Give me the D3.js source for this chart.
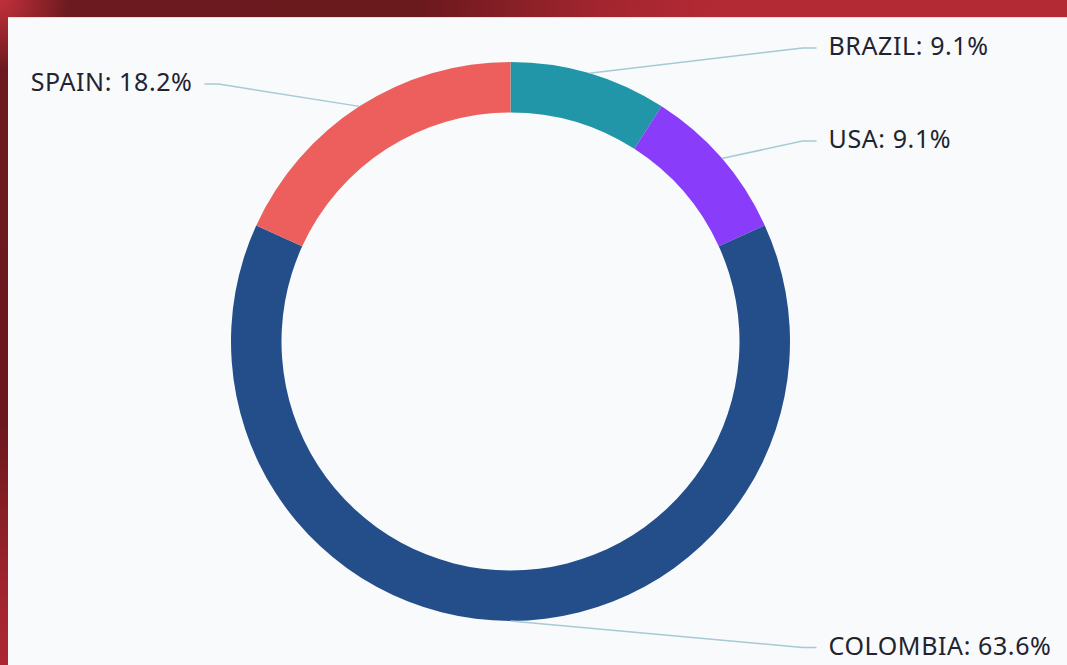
<!DOCTYPE html>
<html>
<head>
<meta charset="utf-8">
<script src="https://cdn.jsdelivr.net/npm/d3@7"></script>
<style>
  html, body { margin: 0; padding: 0; overflow: hidden; }
  body {
    width: 1067px; height: 665px;
    background: radial-gradient(circle at 0 0, #c2303b 0px, #6c1a1f 70px, #6a191d 420px, #a3252f 600px, #b32a34 720px);
  }
  #panel {
    position: absolute; left: 8px; top: 17px; right: 0; bottom: 0;
    background: #f8fafc;
    border-top: 1px solid #e8dfe2;
  }
  svg { position: absolute; left: 0; top: 0; }
</style>
</head>
<body>
<div id="panel"></div>
<svg id="chart" width="1067" height="665"></svg>
<script>
// chart data
const countries = ["BRAZIL", "USA", "COLOMBIA", "SPAIN"];
const counts = [1, 1, 7, 2];
const sliceColors = ["#2196a9", "#8a3cfb", "#234e8a", "#ec5f5d"];

class DonutChart {
    constructor(selector) {
        this.svg = d3.select(selector);
        this.cx = 510.5;
        this.cy = 341.5;
        this.outer = 279.5;
        this.inner = 229;
        this.labelRadius = 306;
        this.color = d3.scaleOrdinal().domain(countries).range(sliceColors);
        this.total = d3.sum(counts);
        this.data = countries.map((c, i) => ({ name: c, value: counts[i] }));
    }

    draw() {
        const g = this.svg.append("g")
            .attr("transform", "translate(" + this.cx + "," + this.cy + ")");

        const pie = d3.pie().sort(null).value(d => d.value);
        const arc = d3.arc().innerRadius(this.inner).outerRadius(this.outer);
        const arcs = pie(this.data);

        g.append("g").attr("class", "slices")
            .selectAll("path")
            .data(arcs)
            .enter().append("path")
            .attr("d", arc)
            .attr("fill", d => this.color(d.data.name));

        const self = this;
        function linePoints(d) {
            const a = (d.startAngle + d.endAngle) / 2;
            const side = Math.sin(a) >= 0 ? 1 : -1;
            const p0 = [self.outer * Math.sin(a), -self.outer * Math.cos(a)];
            const ly = -self.labelRadius * Math.cos(a);
            const end = side * self.labelRadius;
            return [p0, [end - side * 14, ly], [end, ly]];
        }

        g.append("g").attr("class", "lines")
            .selectAll("polyline")
            .data(arcs)
            .enter().append("polyline")
            .attr("points", d => linePoints(d).map(p => p.join(",")).join(" "))
            .attr("fill", "none")
            .attr("stroke", "#a6cbd3")
            .attr("stroke-width", 1.5);

        g.append("g").attr("class", "labels")
            .selectAll("text")
            .data(arcs)
            .enter().append("text")
            .text(d => d.data.name + ": " + (d.data.value / this.total * 100).toFixed(1) + "%")
            .attr("x", d => {
                const p = linePoints(d)[2];
                return p[0] + (p[0] >= 0 ? 12 : -12);
            })
            .attr("y", d => linePoints(d)[2][1] - 2)
            .attr("dy", "0.36em")
            .attr("text-anchor", d => linePoints(d)[2][0] >= 0 ? "start" : "end")
            .attr("font-family", "'Noto Sans', sans-serif")
            .attr("font-size", 25)
            .attr("letter-spacing", "0.6px")
            .attr("fill", "#22232e");
    }
}

new DonutChart("#chart").draw();
</script>
</body>
</html>
